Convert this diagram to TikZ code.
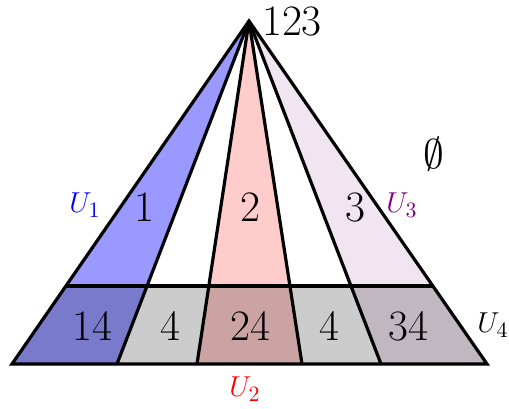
\documentclass[tikz,border=0pt]{standalone}
\usetikzlibrary{calc}
\begin{document}
\begin{tikzpicture}[x=0.5pt,y=-0.5pt,
  edge/.style={line width=1.6pt,line join=miter},
  num/.style={inner sep=0pt,font=\fontsize{21.7}{26}\selectfont},
  lab/.style={inner sep=0pt,font=\fontsize{15}{18}\selectfont}]
\useasboundingbox (0,0) rectangle (509,408);
\coordinate (A) at (249,21);
\foreach \i/\x in {0/12,1/117,2/197,3/302,4/381,5/487}{
  \coordinate (B\i) at (\x,364);
  \coordinate (M\i) at ($(A)!0.7726!(B\i)$);
}
% fills
\fill[blue!40] (A) -- (B0) -- (B1) -- cycle;
\fill[red!20] (A) -- (B2) -- (B3) -- cycle;
\fill[violet!10] (A) -- (B4) -- (B5) -- cycle;
\fill[black,opacity=0.2] (M0) -- (M5) -- (B5) -- (B0) -- cycle;
% lines
\foreach \i in {1,2,3,4}{\draw[edge] (A) -- (B\i);}
\draw[edge] (M0) -- (M5);
\draw[edge] (A) -- (B0) -- (B5) -- cycle;
% labels
\node[num] (n123) at (292,21) {123};
\node[num] (nempty) at (434,154) {$\emptyset$};
\node[num] (n1) at (144,207) {1};
\node[num] (n2) at (250,207) {2};
\node[num] (n3) at (355,207) {3};
\node[num] (n14) at (92,326) {14};
\node[num] (n4a) at (170,326) {4};
\node[num] (n24) at (250,326) {24};
\node[num] (n4b) at (329,326) {4};
\node[num] (n34) at (408,326) {34};
\node[lab,text=blue] (u1) at (85,205) {$U_1$};
\node[lab,text=red] (u2) at (245,389) {$U_2$};
\node[lab,text=violet] (u3) at (402,205) {$U_3$};
\node[lab] (u4) at (493,325) {$U_4$};
\end{tikzpicture}
\end{document}
